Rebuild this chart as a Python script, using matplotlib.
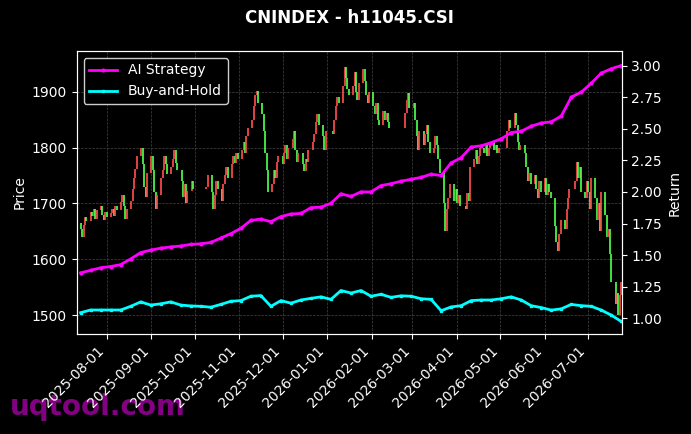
import matplotlib
matplotlib.use("Agg")
import matplotlib.pyplot as plt
import matplotlib.dates as mdates
import numpy as np
import pandas as pd

# trading calendar (weekdays minus exchange holidays)
start_day = "2025-07-14"
end_day = "2026-07-24"
holidays = ["2025-10-01", "2025-10-02", "2025-10-03", "2025-10-06", "2025-10-07",
            "2025-10-08", "2026-01-01", "2026-01-02", "2026-02-16", "2026-02-17",
            "2026-02-18", "2026-02-19", "2026-02-20", "2026-02-23", "2026-04-06",
            "2026-05-01", "2026-05-04", "2026-05-05", "2026-06-19"]

first_open = 1665
closes = [
    # 2025-07
    1655, 1640, 1662, 1675, 1668, 1685, 1678, 1690, 1672, 1688, 1695, 1680, 1670, 1684,
    # 2025-08
    1675, 1682, 1690, 1678, 1695, 1688, 1702, 1715, 1695, 1672, 1690, 1705, 1725, 1745,
    1762, 1785, 1800, 1770, 1730, 1712, 1755,
    # 2025-09
    1785, 1760, 1720, 1690, 1715, 1745, 1760, 1785, 1770, 1752, 1765, 1780, 1795, 1772,
    1760, 1740, 1712, 1735, 1700, 1722, 1740, 1725,
    # 2025-10
    1730, 1750, 1720, 1690, 1715, 1740, 1725, 1705, 1735, 1750, 1765, 1745, 1770, 1785,
    1772, 1790, 1780,
    # 2025-11
    1795, 1810, 1790, 1820, 1835, 1850, 1875, 1895, 1902, 1880, 1860, 1830, 1790, 1760,
    1720, 1735, 1760, 1745, 1775, 1785,
    # 2025-12
    1770, 1790, 1805, 1780, 1800, 1815, 1830, 1795, 1775, 1790, 1770, 1758, 1780, 1775,
    1795, 1810, 1825, 1845, 1860, 1840, 1820, 1795, 1830,
    # 2026-01
    1825, 1850, 1875, 1890, 1880, 1910, 1945, 1925, 1905, 1895, 1910, 1935, 1900, 1885,
    1915, 1940, 1920, 1895, 1880, 1900,
    # 2026-02
    1875, 1860, 1880, 1850, 1840, 1865, 1850, 1862, 1845, 1835, 1862, 1885, 1898, 1870,
    # 2026-03
    1880, 1850, 1820, 1795, 1830, 1805, 1825, 1840, 1810, 1790, 1800, 1820, 1805, 1780,
    1755, 1700, 1650, 1690, 1710, 1735, 1705, 1725,
    # 2026-04
    1700, 1715, 1695, 1690, 1718, 1705, 1765, 1780, 1795, 1770, 1785, 1800, 1790, 1805,
    1785, 1800, 1810, 1795, 1805, 1790, 1800,
    # 2026-05
    1830, 1850, 1835, 1862, 1840, 1810, 1795, 1805, 1790, 1765, 1740, 1755, 1735, 1750,
    1725, 1710, 1740, 1720,
    # 2026-06
    1745, 1715, 1735, 1720, 1710, 1660, 1630, 1615, 1645, 1670, 1655, 1690, 1710, 1725,
    1740, 1775, 1745, 1765, 1720, 1710, 1740,
    # 2026-07
    1720, 1690, 1745, 1710, 1670, 1700, 1650, 1720, 1680, 1640, 1655, 1610, 1560, 1520,
    1540, 1500, 1535, 1560,
]

# cumulative return curves, sampled about once a week across the same span
ai_strategy = [1.36, 1.38, 1.40, 1.41, 1.425, 1.47, 1.52, 1.54, 1.555, 1.565,
               1.572, 1.585, 1.59, 1.60, 1.635, 1.67, 1.712, 1.775, 1.785, 1.765,
               1.805, 1.825, 1.83, 1.875, 1.88, 1.91, 1.985, 1.965, 2.0, 2.0,
               2.05, 2.065, 2.085, 2.10, 2.115, 2.14, 2.13, 2.23, 2.27, 2.355,
               2.365, 2.39, 2.42, 2.47, 2.48, 2.52, 2.545, 2.555, 2.60, 2.75,
               2.79, 2.86, 2.94, 2.975, 3.0]
buy_hold = [1.045, 1.066, 1.066, 1.066, 1.066, 1.095, 1.13, 1.105, 1.115, 1.13,
            1.105, 1.098, 1.095, 1.088, 1.11, 1.135, 1.14, 1.175, 1.18, 1.095,
            1.14, 1.12, 1.145, 1.158, 1.17, 1.15, 1.22, 1.20, 1.22, 1.175,
            1.19, 1.166, 1.178, 1.175, 1.155, 1.15, 1.06, 1.09, 1.10, 1.14,
            1.145, 1.145, 1.155, 1.17, 1.145, 1.10, 1.085, 1.065, 1.075, 1.11,
            1.10, 1.095, 1.065, 1.025, 0.975]

dates = pd.bdate_range(start_day, end_day)
dates = dates[~dates.isin(pd.to_datetime(holidays))]
n = min(len(dates), len(closes))
dates = dates[:n]
close = np.array(closes[:n], dtype=float)
opens = np.concatenate([[first_open], close[:-1]])
ret_dates = pd.date_range(start_day, end_day, periods=len(ai_strategy))

plt.style.use("dark_background")
fig = plt.figure(figsize=(6.91, 4.34), dpi=100)
ax = fig.add_axes([0.111, 0.2304, 0.7887, 0.6521])
ax.set_facecolor("black")

up = close >= opens
cols = np.where(up, "#ff4d4d", "#4dff4d")
x = mdates.date2num(dates)
ax.vlines(x, np.minimum(opens, close), np.maximum(opens, close),
          colors=cols, linewidth=1.3, alpha=0.95, zorder=2)

ax.set_ylim(1466, 1973)
ax.set_xlim(mdates.date2num(pd.Timestamp("2025-07-11 06:00")),
            mdates.date2num(pd.Timestamp("2026-07-24 06:00")))
ax.set_ylabel("Price", color="white")
ax.grid(True, color="#555555", linestyle="--", linewidth=0.5, alpha=0.8)
ax.xaxis.set_major_locator(mdates.MonthLocator())
ax.xaxis.set_major_formatter(mdates.DateFormatter("%Y-%m-%d"))
plt.setp(ax.get_xticklabels(), rotation=45, ha="right", rotation_mode="default")

ax2 = ax.twinx()
ax2.plot(ret_dates, ai_strategy, color="#ff00ff", linewidth=2, marker="o",
         markersize=2, label="AI Strategy")
ax2.plot(ret_dates, buy_hold, color="#00ffff", linewidth=2, marker="s",
         markersize=2, label="Buy-and-Hold")
ax2.set_ylim(0.876, 3.115)
ax2.set_ylabel("Return", color="white")
ax2.set_xlim(ax.get_xlim())

leg = ax2.legend(loc="upper left", facecolor="black", edgecolor="#cccccc", fontsize=10)
leg.get_frame().set_alpha(1.0)

for a in (ax, ax2):
    for s in a.spines.values():
        s.set_color("white")

ax.set_title("CNINDEX - h11045.CSI", color="white", fontsize=12, fontweight="bold", pad=20)

fig.text(0.015, 0.044, "uqtool.com", color="#8b008b", fontsize=20, fontweight="bold",
         alpha=0.95, zorder=-1, va="baseline")

fig.savefig("out.png", dpi=100, facecolor="black")
